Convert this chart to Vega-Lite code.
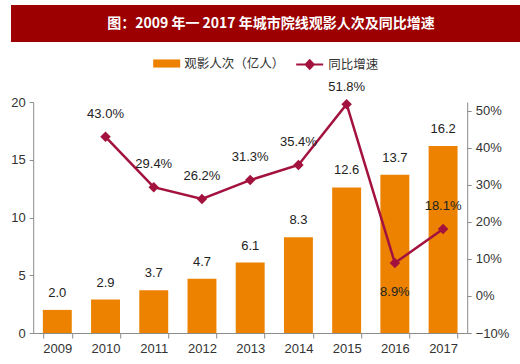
{
  "$schema": "https://vega.github.io/schema/vega-lite/v6.json",
  "background": "white",
  "padding": {"left": 0, "top": 5, "right": 0, "bottom": 0},
  "spacing": 8,
  "center": true,
  "config": {
    "view": {"stroke": null},
    "font": "Liberation Sans",
    "axis": {"labelFont": "Liberation Sans", "labelFontSize": 13, "labelColor": "#333333", "domainColor": "#8c8c8c", "tickColor": "#8c8c8c", "grid": false, "title": null},
    "legend": {"labelFont": "Noto Sans CJK SC", "labelFontSize": 12.5, "labelColor": "#333333", "padding": 0, "title": null}
  },
  "resolve": {"legend": {"color": "independent", "stroke": "independent"}},
  "vconcat": [
    {
      "width": 520,
      "height": 37,
      "data": {"values": [{"t": "图：2009 年一 2017 年城市院线观影人次及同比增速"}]},
      "layer": [
        {"mark": {"type": "rect", "color": "#9C0000"}},
        {"mark": {"type": "text", "color": "white", "fontSize": 14, "fontWeight": "bold", "font": "Noto Sans CJK SC"}, "encoding": {"text": {"field": "t"}}}
      ]
    },
    {
      "width": 434,
      "height": 231,
      "data": {"values": [
        {"year": "2009", "viewers": 2.0, "growth": null},
        {"year": "2010", "viewers": 2.9, "growth": 0.430},
        {"year": "2011", "viewers": 3.7, "growth": 0.294},
        {"year": "2012", "viewers": 4.7, "growth": 0.262},
        {"year": "2013", "viewers": 6.1, "growth": 0.313},
        {"year": "2014", "viewers": 8.3, "growth": 0.354},
        {"year": "2015", "viewers": 12.6, "growth": 0.518},
        {"year": "2016", "viewers": 13.7, "growth": 0.089},
        {"year": "2017", "viewers": 16.2, "growth": 0.181}
      ]},
      "encoding": {
        "x": {"field": "year", "type": "ordinal", "axis": {"labelAngle": 0, "tickBand": "extent", "tickSize": 5, "labelPadding": 4}, "scale": {"paddingInner": 0.4, "paddingOuter": 0.2}}
      },
      "layer": [
        {
          "encoding": {
            "y": {"field": "viewers", "type": "quantitative", "scale": {"domain": [0, 20], "nice": false}, "axis": {"values": [0, 5, 10, 15, 20], "tickSize": 4, "labelPadding": 4, "minExtent": 33}}
          },
          "layer": [
            {
              "mark": {"type": "bar"},
              "encoding": {
                "color": {"datum": "观影人次（亿人）", "scale": {"range": ["#EC8200"]}, "legend": {"orient": "none", "legendX": 120, "legendY": -52, "symbolType": "M-1,-0.3H1V0.3H-1Z", "symbolSize": 729, "symbolStrokeWidth": 0}}
              }
            },
            {
              "mark": {"type": "text", "dy": -17, "fontSize": 13, "color": "#222222"},
              "encoding": {"text": {"field": "viewers", "type": "quantitative", "format": ".1f"}}
            }
          ]
        },
        {
          "encoding": {
            "y": {"field": "growth", "type": "quantitative", "scale": {"domain": [-0.1, 0.524], "nice": false, "zero": false}, "axis": {"orient": "right", "values": [-0.1, 0, 0.1, 0.2, 0.3, 0.4, 0.5], "format": ".0%", "tickSize": 4, "labelPadding": 4}}
          },
          "layer": [
            {
              "mark": {"type": "line", "strokeWidth": 2.5},
              "encoding": {
                "stroke": {"datum": "同比增速", "scale": {"range": ["#A3123E"]}, "legend": {"orient": "none", "legendX": 262, "legendY": -52, "symbolType": "M-1,0H1M0,-0.32L0.3,0L0,0.32L-0.3,0Z", "symbolSize": 729, "symbolStrokeWidth": 2, "symbolFillColor": "#A3123E"}}
              }
            },
            {
              "mark": {"type": "point", "shape": "diamond", "filled": true, "size": 110, "color": "#A3123E", "opacity": 1}
            },
            {
              "transform": [{"filter": "datum.year != '2016' && datum.year != '2015' && datum.growth != null"}],
              "mark": {"type": "text", "dy": -23, "fontSize": 13, "color": "#222222"},
              "encoding": {"text": {"field": "growth", "type": "quantitative", "format": ".1%"}}
            },
            {
              "transform": [{"filter": "datum.year == '2015'"}],
              "mark": {"type": "text", "dy": -17, "fontSize": 13, "color": "#222222"},
              "encoding": {"text": {"field": "growth", "type": "quantitative", "format": ".1%"}}
            },
            {
              "transform": [{"filter": "datum.year == '2016'"}],
              "mark": {"type": "text", "dy": 29, "fontSize": 13, "color": "#222222"},
              "encoding": {"text": {"field": "growth", "type": "quantitative", "format": ".1%"}}
            }
          ]
        }
      ],
      "resolve": {"scale": {"y": "independent"}}
    }
  ]
}
